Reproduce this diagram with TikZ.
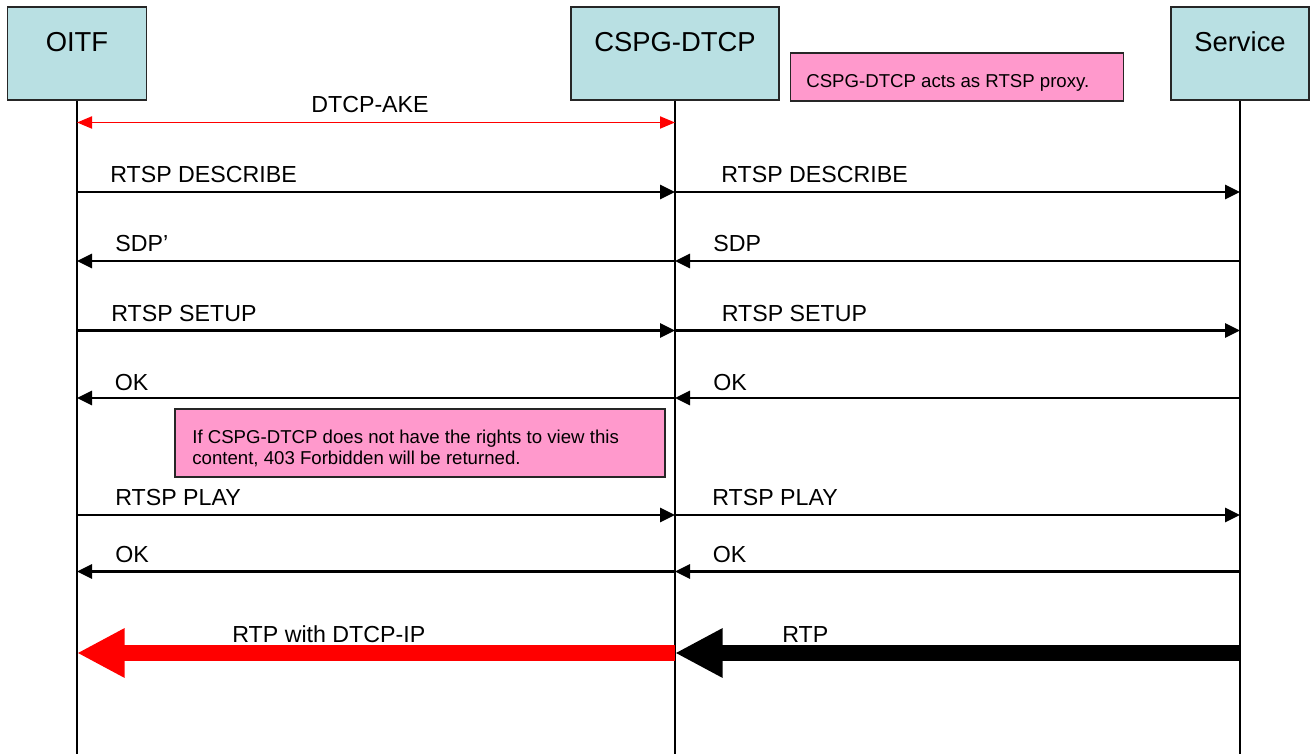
\documentclass[tikz,border=0pt]{standalone}
\usepackage{fontspec}
\setmainfont{Liberation Sans}
\usetikzlibrary{arrows.meta, positioning}
\definecolor{actorfill}{HTML}{B9E0E3}
\definecolor{notefill}{HTML}{FF99CC}
\colorlet{akered}{red}
\tikzset{
  actor/.style={draw=black!85, line width=1pt, fill=actorfill, minimum width=#1, minimum height=1.86cm, inner sep=0pt},
  title/.style={anchor=base, inner sep=0pt, font=\fontsize{15.6}{18}\selectfont},
  lbl/.style={anchor=base west, inner sep=0pt, font=\fontsize{13.2}{16}\selectfont},
  notebox/.style={draw=black!85, line width=1pt, fill=notefill, inner sep=0pt},
  notetext/.style={align=left, inner sep=0pt, font=\fontsize{10.6}{12}\selectfont},
  life/.style={line width=0.75pt},
  msg/.style={line width=1.7pt, -{Triangle[length=0.3cm, width=0.28cm]}},
  ake/.style={akered, line width=1.1pt, {Triangle[length=0.3cm, width=0.24cm]}-{Triangle[length=0.3cm, width=0.24cm]}},
  stream/.style={line width=0.31cm, -{Triangle[length=0.95cm, width=0.92cm]}}
}

\begin{document}
\begin{tikzpicture}
    \useasboundingbox (0,0) rectangle (26.2,-15.08);

    % actors
    \node[actor=2.78cm] (oitf) at (1.54,-1.07) {};
    \node[actor=4.16cm] (cspg) at (13.5,-1.07) {};
    \node[actor=2.77cm] (service) at (24.8,-1.07) {};
    \node[title] at ([yshift=-0.9cm]oitf.north) {OITF};
    \node[title] at ([yshift=-0.9cm]cspg.north) {CSPG-DTCP};
    \node[title] at ([yshift=-0.9cm]service.north) {Service};

    \draw[life] (oitf.south) -- (oitf.south |- 0,-15.08);
    \draw[life] (cspg.south) -- (cspg.south |- 0,-15.08);
    \draw[life] (service.south) -- (service.south |- 0,-15.08);

    % notes
    \node[notebox, minimum width=6.66cm, minimum height=0.96cm] (proxynote) at (19.14,-1.54) {};
    \node[notetext, anchor=base west] at (16.12,-1.76) {CSPG-DTCP acts as RTSP proxy.};
    \node[notebox, minimum width=9.79cm, minimum height=1.35cm] (rightsnote) at (8.40,-8.86) {};
    \node[notetext, anchor=north west] at (3.84,-8.59) {If CSPG-DTCP does not have the rights to view this\\content, 403 Forbidden will be returned.};

    % message rows
    \path (oitf |- 0,-2.45) coordinate (o0) (cspg |- 0,-2.45) coordinate (c0);
    \path (oitf |- 0,-3.84) coordinate (o1) (cspg |- 0,-3.84) coordinate (c1) (service |- 0,-3.84) coordinate (s1);
    \path (oitf |- 0,-5.22) coordinate (o2) (cspg |- 0,-5.22) coordinate (c2) (service |- 0,-5.22) coordinate (s2);
    \path (oitf |- 0,-6.61) coordinate (o3) (cspg |- 0,-6.61) coordinate (c3) (service |- 0,-6.61) coordinate (s3);
    \path (oitf |- 0,-7.96) coordinate (o4) (cspg |- 0,-7.96) coordinate (c4) (service |- 0,-7.96) coordinate (s4);
    \path (oitf |- 0,-10.3) coordinate (o5) (cspg |- 0,-10.3) coordinate (c5) (service |- 0,-10.3) coordinate (s5);
    \path (oitf |- 0,-11.43) coordinate (o6) (cspg |- 0,-11.43) coordinate (c6) (service |- 0,-11.43) coordinate (s6);
    \path (oitf |- 0,-13.06) coordinate (o7) (cspg |- 0,-13.06) coordinate (c7) (service |- 0,-13.06) coordinate (s7);

    \draw[ake] (o0) -- (c0);
    \node[lbl, anchor=base] at (7.4,-2.26) {DTCP-AKE};

    \draw[msg] (o1) -- (c1);
    \draw[msg] (c1) -- (s1);
    \node[lbl] at (2.2,-3.66) {RTSP DESCRIBE};
    \node[lbl] at (14.42,-3.66) {RTSP DESCRIBE};

    \draw[msg] (c2) -- (o2);
    \draw[msg] (s2) -- (c2);
    \node[lbl] at (2.3,-5.04) {SDP'};
    \node[lbl] at (14.26,-5.04) {SDP};

    \draw[msg] (o3) -- (c3);
    \draw[msg] (c3) -- (s3);
    \node[lbl] at (2.22,-6.43) {RTSP SETUP};
    \node[lbl] at (14.43,-6.43) {RTSP SETUP};

    \draw[msg] (c4) -- (o4);
    \draw[msg] (s4) -- (c4);
    \node[lbl] at (2.29,-7.81) {OK};
    \node[lbl] at (14.26,-7.81) {OK};

    \draw[msg] (o5) -- (c5);
    \draw[msg] (c5) -- (s5);
    \node[lbl] at (2.3,-10.12) {RTSP PLAY};
    \node[lbl] at (14.24,-10.12) {RTSP PLAY};

    \draw[msg] (c6) -- (o6);
    \draw[msg] (s6) -- (c6);
    \node[lbl] at (2.3,-11.25) {OK};
    \node[lbl] at (14.25,-11.25) {OK};

    % media streams
    \draw[stream, akered] (c7) -- (o7);
    \draw[stream, black] (s7) -- (c7);
    \node[lbl] at (4.64,-12.86) {RTP with DTCP-IP};
    \node[lbl] at (15.64,-12.86) {RTP};
\end{tikzpicture}
\end{document}
